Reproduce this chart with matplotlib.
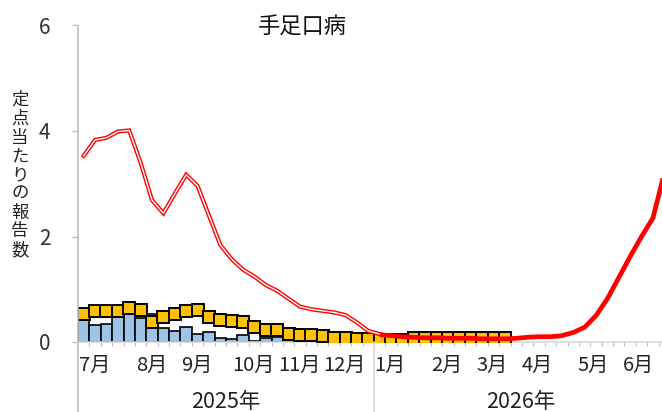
import matplotlib
matplotlib.use('Agg')
import matplotlib.pyplot as plt
from matplotlib.lines import Line2D
import numpy as np

plt.rcParams['font.family'] = ['Noto Sans CJK JP', 'DejaVu Sans']

# ---------------- data ----------------
title = '手足口病'
ylabel = '定点当たりの報告数'
year_labels = ['2025年', '2026年']
month_labels = ['7月', '8月', '9月', '10月', '11月', '12月',
                '1月', '2月', '3月', '4月', '5月', '6月']
y_ticks = [0, 2, 4, 6]

# light-blue bars (weekly, starting at week index 0)
bar_vals = [0.42, 0.32, 0.35, 0.48, 0.53, 0.45, 0.54, 0.26, 0.21, 0.28,
            0.15, 0.19, 0.07, 0.05, 0.14, 0.02, 0.08, 0.09, 0.03, 0.02,
            0.02, 0.02, 0.01, 0.01, 0.01, 0.01]

# yellow square markers
square_vals = [0.54, 0.58, 0.59, 0.59, 0.65, 0.61, 0.37, 0.47, 0.54, 0.58,
               0.61, 0.47, 0.42, 0.40, 0.37, 0.29, 0.23, 0.22, 0.15, 0.13,
               0.13, 0.11, 0.08, 0.08, 0.06, 0.06, 0.04, 0.04, 0.04, 0.08,
               0.08, 0.08, 0.08, 0.08, 0.08, 0.08, 0.08, 0.08]

# red double line (previous season)
prev_vals = [3.53, 3.83, 3.87, 3.99, 4.01, 3.40, 2.69, 2.44, 2.81, 3.17,
             2.96, 2.40, 1.84, 1.57, 1.37, 1.24, 1.08, 0.97, 0.82, 0.67,
             0.62, 0.59, 0.56, 0.51, 0.37, 0.21, 0.15]

# thick red line (current season), starting at week index 26
curr_start = 26
curr_vals = [0.14, 0.12, 0.10, 0.09, 0.08, 0.08, 0.07, 0.07, 0.07, 0.06,
             0.06, 0.06, 0.07, 0.09, 0.10, 0.10, 0.12, 0.18, 0.28, 0.50,
             0.82, 1.22, 1.62, 2.00, 2.35, 3.20]

# ---------------- layout ----------------
W, H = 662, 412
fig = plt.figure(figsize=(W / 100, H / 100), dpi=100)
x0_px, y0_px, ytop_px = 78, 342, 25.5
week_px = 11.385
ax = fig.add_axes([x0_px / W, 1 - y0_px / H, (W - x0_px) / W, (y0_px - ytop_px) / H])

xb = np.arange(len(bar_vals))
ax.bar(xb, bar_vals, width=1.0, color='#9dc3e6', edgecolor='#000000',
       linewidth=1.2, zorder=2)

xs = np.arange(len(square_vals))
ax.plot(xs, square_vals, linestyle='none', marker='s', markersize=8.3,
        markerfacecolor='#ffc000', markeredgecolor='#000000',
        markeredgewidth=1.4, zorder=3)

xp = np.arange(len(prev_vals))
ax.plot(xp, prev_vals, color='#ff0000', linewidth=3.0, zorder=4,
        solid_joinstyle='miter')
ax.plot(xp, prev_vals, color='white', linewidth=1.0, zorder=5,
        solid_joinstyle='miter')

xc = np.arange(curr_start, curr_start + len(curr_vals))
ax.plot(xc, curr_vals, color='#ff0000', linewidth=3.4, zorder=6,
        solid_capstyle='butt')

for s in ['top', 'right', 'left']:
    ax.spines[s].set_visible(False)
ax.spines['bottom'].set_color('#d9d9d9')
ax.spines['bottom'].set_linewidth(1.2)

ax.set_xticks(np.arange(-0.5, 53, 1))
ax.set_xticklabels([])
ax.tick_params(axis='x', length=3, color='#bfbfbf', width=0.8)
ax.set_yticks(y_ticks)
ax.set_yticklabels([str(v) for v in y_ticks], fontsize=15, color='#333333')
ax.tick_params(axis='y', length=4, color='#bfbfbf', width=1.0, pad=16)

ax.set_xlim(-0.5, -0.5 + (W - x0_px) / week_px)
ax.set_ylim(0, 6)

# left axis line extending to the bottom
fig.add_artist(Line2D([x0_px / W, x0_px / W], [0, 1 - ytop_px / H],
                      transform=fig.transFigure, color='#bfbfbf', lw=1.2))
# year separator
sep_px = x0_px + 26 * week_px
fig.add_artist(Line2D([sep_px / W, sep_px / W], [0, 1 - y0_px / H],
                      transform=fig.transFigure, color='#d9d9d9', lw=1.2))

# month labels
month_px = [95, 152, 197, 253, 299, 344, 390, 447, 492, 537, 593, 638]
for lab, px in zip(month_labels, month_px):
    fig.text(px / W, 1 - 365 / H, lab, ha='center', va='center',
             fontsize=14.5, color='#222222')
# year labels
for lab, px in zip(year_labels, [226, 521]):
    fig.text(px / W, 1 - 402 / H, lab, ha='center', va='center',
             fontsize=15.5, color='#222222')

# title
fig.text(302 / W, 1 - 27.5 / H, title, ha='center', va='center',
         fontsize=16, color='#111111')

# vertical y label (stacked characters)
for k, ch in enumerate(ylabel):
    fig.text(20 / W, 1 - (100 + k * 18.75) / H, ch, ha='center', va='center',
             fontsize=12.5, color='#222222')

fig.savefig('out.png', dpi=100)
